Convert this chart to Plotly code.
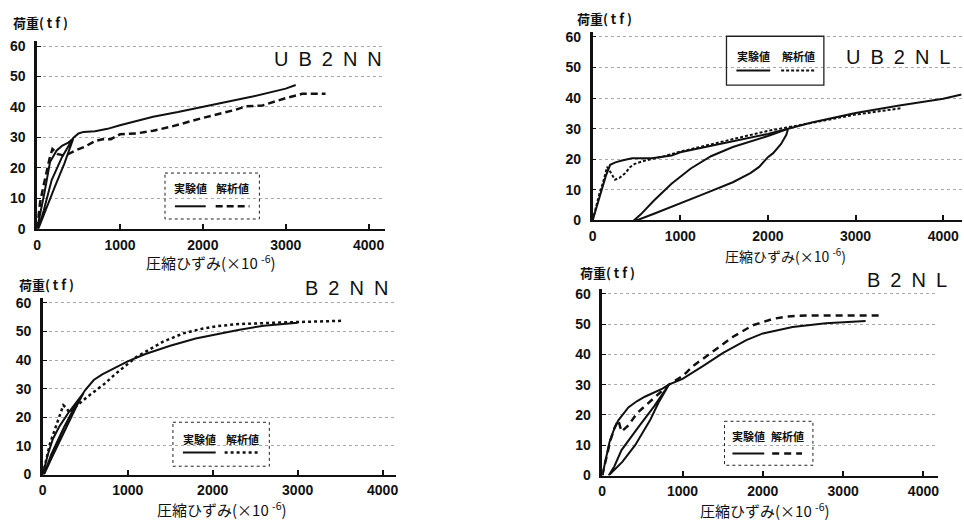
import plotly.graph_objects as go

W, H = 964, 527

# ---------------- data (strain x10^-6, load tf) ----------------
ub2nn_exp_x = [0, 40, 90, 156, 236, 300, 376, 436, 330, 216, 110, 15,
               80, 176, 300, 436, 500, 560, 700, 850, 1000, 1200, 1400,
               1700, 2000, 2300, 2600, 3000, 3120]
ub2nn_exp_y = [0, 5, 12, 21.9, 25.7, 27.2, 28.3, 29.6, 21.5, 13.9, 6.5, 0,
               6, 16, 23.5, 29.8, 31.3, 31.8, 32.0, 32.8, 34.0, 35.5, 36.8,
               38.3, 40.0, 41.6, 43.4, 46.0, 47.2]
ub2nn_ana_x = [0, 36, 76, 116, 150, 185, 250, 340, 460, 580, 700, 790, 890,
               1000, 1200, 1400, 1600, 2000, 2400, 2520, 2720, 3000, 3200, 3480]
ub2nn_ana_y = [0, 8.6, 13.9, 19.2, 23.0, 26.2, 24.5, 24.0, 25.7, 27.0, 28.8,
               29.4, 29.4, 31.0, 31.3, 32.2, 33.4, 36.4, 39.1, 40.2, 40.5,
               42.9, 44.3, 44.3]

ub2nl_exp_x = [0, 50, 100, 150, 200, 260, 335, 450, 675, 900, 1000, 1250,
               1500, 1750, 2000, 2230, 2210, 2150, 2060, 2000, 1900, 1800,
               1600, 1300, 1000, 700, 500, 470, 550, 700, 900, 1120, 1350,
               1600, 2000, 2230, 2500, 3000, 3500, 4000, 4210]
ub2nl_exp_y = [0, 5, 10, 14.5, 18.2, 19.0, 19.6, 20.3, 20.3, 21.2, 22.3,
               23.8, 25.3, 26.8, 28.3, 30.0, 28.0, 25.0, 22.0, 20.7, 17.5,
               15.5, 12.5, 9.0, 5.5, 2.2, 0, 0, 2, 6.5, 12, 17, 21, 24,
               27.6, 30.0, 32.0, 35.1, 37.6, 39.8, 41.2]
ub2nl_ana_x = [0, 40, 80, 120, 165, 200, 255, 310, 370, 430, 480, 600, 790,
               1000, 1500, 1800, 2000, 2200, 2500, 3000, 3520]
ub2nl_ana_y = [0, 5, 9, 12.5, 17.5, 16.0, 13.3, 14.0, 15.4, 17.5, 18.5,
               19.6, 20.8, 22.5, 26.0, 28.0, 29.3, 30.3, 32.0, 34.6, 36.7]

b2nn_exp_x = [0, 60, 120, 200, 300, 400, 480, 400, 250, 100, 15, 100, 250,
              400, 500, 600, 700, 800, 1000, 1200, 1500, 1800, 2000, 2300,
              2600, 3000]
b2nn_exp_y = [0, 7, 12.5, 17, 21.5, 25.5, 28.5, 24, 15, 5.5, 0, 7, 16.5,
              25, 29.5, 33, 35, 36.5, 39.5, 42, 45, 47.5, 48.8, 50.5, 52,
              53]
b2nn_ana_x = [0, 40, 85, 164, 242, 277, 316, 380, 450, 520, 620, 720, 850,
              1000, 1100, 1182, 1417, 1652, 1887, 2043, 2278, 2700, 3000,
              3530]
b2nn_ana_y = [0, 5, 10.8, 17.6, 24.2, 23.3, 21.5, 23.5, 25.3, 27.0, 29.3,
              31.5, 35.0, 38.5, 41.0, 42.4, 46.4, 49.3, 51.0, 51.8, 52.5,
              53.0, 53.2, 53.7]

b2nl_exp_x = [0, 40, 90, 150, 200, 325, 430, 530, 650, 750, 830, 700, 600,
              410, 250, 80, 150, 240, 450, 650, 830, 1000, 1258, 1505, 1794,
              2000, 2371, 2784, 3280]
b2nl_exp_y = [0, 5, 11, 15.5, 18.2, 22.5, 24.5, 26.0, 27.5, 28.7, 30.0,
              24.0, 18.5, 10.0, 4.5, 0, 3, 8.4, 16, 23, 30.0, 31.9, 36.2,
              40.5, 44.7, 46.9, 49.0, 50.3, 51.0]
b2nl_ana_x = [0, 50, 100, 150, 200, 240, 325, 430, 535, 660, 745, 830,
              1000, 1134, 1381, 1629, 1876, 2124, 2300, 2536, 3500]
b2nl_ana_y = [0, 6, 11.5, 15.5, 18.3, 14.5, 16.5, 20.5, 23.0, 25.7, 27.8,
              30.0, 32.8, 36.2, 41.0, 45.8, 49.6, 51.7, 52.5, 52.8, 52.8]

titles = ["U\u2002B\u20022\u2002N\u2002N", "U\u2002B\u20022\u2002N\u2002L",
          "B\u20022\u2002N\u2002N", "B\u20022\u2002N\u2002L"]
x_ticks = [0, 1000, 2000, 3000, 4000]
x_tick_labels = ["0", "1000", "2000", "3000", "4000"]
y_ticks = [0, 10, 20, 30, 40, 50, 60]
y_tick_labels = ["0", "10", "20", "30", "40", "50", "60"]
y_title = "荷重( t f )"
x_title = "圧縮ひずみ(×10 <sup>-6</sup>)"
legend_exp = "実験値"
legend_ana = "解析値"

# ---------------- layout geometry (pixels) ----------------
geom = [
    dict(x0=33.3, sx=0.0834, xmax=4200, y0=230.0, sy=3.117, ymax=61.5),
    dict(x0=592.3, sx=0.0882, xmax=4210, y0=221.5, sy=3.13, ymax=61.5),
    dict(x0=39.0, sx=0.0855, xmax=4160, y0=481.5, sy=2.93, ymax=61.5),
    dict(x0=602.0, sx=0.0808, xmax=4180, y0=482.5, sy=3.1, ymax=61.5),
]
series = [
    (ub2nn_exp_x, ub2nn_exp_y, ub2nn_ana_x, ub2nn_ana_y, "7px,4px", 2.5),
    (ub2nl_exp_x, ub2nl_exp_y, ub2nl_ana_x, ub2nl_ana_y, "3px,2px", 2.0),
    (b2nn_exp_x, b2nn_exp_y, b2nn_ana_x, b2nn_ana_y, "3px,3px", 2.5),
    (b2nl_exp_x, b2nl_exp_y, b2nl_ana_x, b2nl_ana_y, "7px,5px", 2.5),
]
title_pos = [(326, 56), (900, 54), (345, 291), (909, 282)]
ytitle_pos = [(37, 19), (604, 15), (43, 287), (607, 275)]
xtitle_pos = [(208, 264), (786, 257), (219, 517), (766, 518)]
xtitle_size = [15, 14, 15, 15]
legend_geo = [
    ((162, 173, 257, 220), "dot", 188, 207, (172, 203), (213, 247)),
    ((727, 33, 825, 83), "solid", 53, 68, (737, 771), (782, 817)),
    ((170, 428, 267, 473), "dot", 445, 459, (180, 213), (222, 257)),
    ((725, 427, 814, 472), "dot", 442, 460, (733, 765), (773, 803)),
]

def px(x):
    return x / W

def py(y):
    return 1 - y / H

fig = go.Figure()
layout = dict(width=W, height=H, margin=dict(l=0, r=0, t=0, b=0),
              paper_bgcolor="white", plot_bgcolor="white", showlegend=False)

tick_font = dict(family="Liberation Sans, Arial", size=14, color="#111")
shapes = []
annotations = []

def note(x, y, text, font):
    annotations.append(dict(x=px(x), y=py(y), xref="paper", yref="paper",
                            xanchor="center", yanchor="middle",
                            text=text, showarrow=False, font=font))

for i, (g, s) in enumerate(zip(geom, series)):
    n = "" if i == 0 else str(i + 1)
    ex, ey, ax_, ay, dash, aw = s
    fig.add_trace(go.Scatter(x=ex, y=ey, mode="lines",
                             line=dict(color="#111", width=2),
                             xaxis="x" + n, yaxis="y" + n))
    fig.add_trace(go.Scatter(x=ax_, y=ay, mode="lines",
                             line=dict(color="#111", width=aw, dash=dash),
                             xaxis="x" + n, yaxis="y" + n))
    xr = g["x0"] + g["xmax"] * g["sx"]
    yt = g["y0"] - g["ymax"] * g["sy"]
    layout["xaxis" + n] = dict(
        domain=[px(g["x0"]), px(xr)], range=[0, g["xmax"]], anchor="y" + n,
        showline=True, linecolor="#111", linewidth=2, mirror=False,
        ticks="inside", ticklen=5, tickwidth=1.5, tickcolor="#111",
        tickvals=x_ticks, ticktext=["<b>%s</b>" % t for t in x_tick_labels],
        showgrid=False, zeroline=False,
        tickfont=tick_font, ticklabelstandoff=2)
    layout["yaxis" + n] = dict(
        domain=[py(g["y0"]), py(yt)], range=[0, g["ymax"]], anchor="x" + n,
        showline=True, linecolor="#111", linewidth=2.5,
        ticks="inside", ticklen=4, tickwidth=1.2, tickcolor="#111",
        tickvals=y_ticks, ticktext=["<b>%s</b>" % t for t in y_tick_labels],
        showgrid=True, gridcolor="#a8a8a8",
        griddash="dot", gridwidth=1, zeroline=False,
        tickfont=tick_font, ticklabelstandoff=6)

    note(*title_pos[i], titles[i],
         dict(family="Liberation Sans, Arial", size=20, color="#111"))
    note(*ytitle_pos[i], "<b>%s</b>" % y_title,
         dict(family="Noto Sans CJK JP", size=13, color="#111"))
    note(*xtitle_pos[i], x_title,
         dict(family="Noto Sans CJK JP", size=xtitle_size[i], color="#111"))

    box, bdash, tyy, syy, es, as_ = legend_geo[i]
    shapes.append(dict(type="rect", xref="paper", yref="paper",
                       x0=px(box[0]), y0=py(box[1]), x1=px(box[2]), y1=py(box[3]),
                       line=dict(color="#222", width=1.3 if bdash == "solid" else 1,
                                 dash=bdash)))
    shapes.append(dict(type="line", xref="paper", yref="paper",
                       x0=px(es[0]), x1=px(es[1]), y0=py(syy), y1=py(syy),
                       line=dict(color="#111", width=2)))
    shapes.append(dict(type="line", xref="paper", yref="paper",
                       x0=px(as_[0]), x1=px(as_[1]), y0=py(syy), y1=py(syy),
                       line=dict(color="#111", width=aw, dash=dash)))
    lf = dict(family="Noto Sans CJK JP", size=11, color="#111")
    note((es[0] + es[1]) / 2, tyy, "<b>%s</b>" % legend_exp, lf)
    note((as_[0] + as_[1]) / 2, tyy, "<b>%s</b>" % legend_ana, lf)

layout["shapes"] = shapes
layout["annotations"] = annotations
fig.update_layout(**layout)
fig.write_html(
    "out.html",
    config={"displayModeBar": False},
    post_script="document.body.style.margin='0';"
                "document.body.style.overflow='hidden';")
